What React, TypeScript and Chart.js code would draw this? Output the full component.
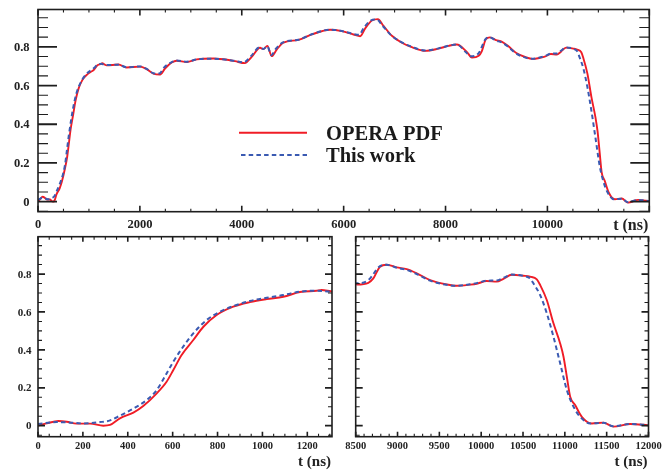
import React, { useEffect, useRef } from "react";
import { Chart, registerables } from "chart.js";

Chart.register(...registerables);

// ---------- data (t in ns, normalised value) ----------
const operaT = [
  0, 39, 91, 128, 172, 232, 291, 321, 365, 425, 469, 529, 573, 603, 640, 692, 737, 796, 870, 944,
  1019, 1093, 1167, 1241, 1264, 1305, 1348, 1577, 1741, 2003, 2133, 2265, 2396, 2493, 2625, 2723,
  2920, 3116, 3443, 3770, 3868, 4060, 4195, 4359, 4424, 4503, 4588, 4686, 4818, 5113, 5375, 5735,
  5964, 6193, 6324, 6422, 6554, 6672, 6783, 6947, 7143, 7339, 7601, 7863, 8060, 8221, 8417, 8519,
  8651, 8711, 8791, 8871, 8990, 9110, 9230, 9389, 9588, 9708, 9867, 9947, 10067, 10186, 10266,
  10366, 10505, 10585, 10665, 10705, 10784, 10864, 10944, 10984, 11024, 11064, 11123, 11203, 11323,
  11461, 11581, 11781, 12000,
];
const operaV = [
  0, 0.012, 0.025, 0.021, 0.011, 0.011, 0.0, 0.004, 0.039, 0.069, 0.104, 0.171, 0.232, 0.294, 0.373,
  0.452, 0.522, 0.584, 0.628, 0.652, 0.668, 0.68, 0.705, 0.712, 0.716, 0.709, 0.704, 0.709, 0.693,
  0.698, 0.685, 0.662, 0.657, 0.688, 0.719, 0.728, 0.722, 0.735, 0.74, 0.731, 0.726, 0.716, 0.748,
  0.795, 0.788, 0.805, 0.752, 0.786, 0.822, 0.836, 0.864, 0.888, 0.881, 0.864, 0.855, 0.895, 0.936,
  0.943, 0.908, 0.857, 0.821, 0.798, 0.779, 0.791, 0.805, 0.812, 0.774, 0.745, 0.754, 0.777, 0.839,
  0.849, 0.835, 0.826, 0.804, 0.768, 0.745, 0.738, 0.744, 0.749, 0.763, 0.76, 0.775, 0.796, 0.791,
  0.786, 0.772, 0.742, 0.663, 0.54, 0.434, 0.364, 0.258, 0.153, 0.109, 0.047, 0.012, 0.016, -0.005,
  0.009, 0.002,
];
const workT = [
  0, 83, 128, 202, 276, 321, 365, 425, 484, 529, 573, 603, 647, 692, 751, 811, 870, 944, 1019, 1093,
  1167, 1241, 1305, 1348, 1577, 1741, 2003, 2133, 2265, 2380, 2480, 2625, 2723, 2920, 3116, 3443,
  3770, 3868, 4040, 4180, 4350, 4424, 4500, 4580, 4670, 4818, 5113, 5375, 5735, 5964, 6193, 6300,
  6400, 6530, 6650, 6760, 6930, 7143, 7339, 7601, 7863, 8060, 8221, 8400, 8500, 8651, 8791, 8871,
  8990, 9110, 9230, 9389, 9588, 9708, 9867, 9947, 10067, 10186, 10266, 10366, 10505, 10585, 10624,
  10705, 10784, 10864, 10944, 11024, 11104, 11183, 11303, 11461, 11581, 11781, 12000,
];
const workV = [
  0.009, 0.019, 0.018, 0.012, 0.019, 0.028, 0.053, 0.09, 0.135, 0.188, 0.276, 0.338, 0.417, 0.487,
  0.557, 0.601, 0.631, 0.658, 0.675, 0.689, 0.707, 0.712, 0.707, 0.706, 0.708, 0.694, 0.699, 0.686,
  0.664, 0.662, 0.695, 0.721, 0.729, 0.723, 0.735, 0.739, 0.731, 0.727, 0.72, 0.752, 0.797, 0.789,
  0.803, 0.757, 0.79, 0.824, 0.837, 0.865, 0.889, 0.882, 0.866, 0.862, 0.9, 0.936, 0.941, 0.91, 0.86,
  0.823, 0.8, 0.781, 0.792, 0.806, 0.812, 0.772, 0.751, 0.768, 0.842, 0.849, 0.833, 0.822, 0.8,
  0.765, 0.743, 0.738, 0.746, 0.752, 0.765, 0.766, 0.78, 0.797, 0.79, 0.777, 0.751, 0.689, 0.593,
  0.469, 0.329, 0.188, 0.1, 0.047, 0.012, 0.015, -0.003, 0.009, 0.003,
];

const topXTicks = [0, 2000, 4000, 6000, 8000, 10000];
const leftXTicks = [0, 200, 400, 600, 800, 1000, 1200];
const rightXTicks = [8500, 9000, 9500, 10000, 10500, 11000, 11500, 12000];
const yTicks = [0, 0.2, 0.4, 0.6, 0.8];
const seriesNames = ["OPERA PDF", "This work"];
const axisTitle = "t (ns)";

// ---------- styling / layout ----------
const W = 671;
const H = 470;
const RED = "#f01c26";
const BLUE = "#3a5ab2";
const INK = "#1e1e1e";
const FONT = '"Liberation Serif", "Times New Roman", serif';

type PanelCfg = {
  left: number; top: number; right: number; bottom: number;
  xMin: number; xMax: number; yMin: number; yMax: number;
  xLabels: number[]; xMajorStep: number; xMinorStep: number;
  yMinorStep: number; showYLabels: boolean;
  yMajLen: number; yMinLen: number; xMajLen: number; xMinLen: number;
  xFont: number; yFont: number; yLabelRight: number; xLabelBaseline: number;
  titleFont: number; titleBaseline: number; legend: boolean;
};

const panels: PanelCfg[] = [
  {
    left: 38, top: 9.5, right: 649.3, bottom: 211.7,
    xMin: 0, xMax: 12000, yMin: -0.052, yMax: 0.993,
    xLabels: topXTicks, xMajorStep: 2000, xMinorStep: 500,
    yMinorStep: 0.05, showYLabels: true,
    yMajLen: 19, yMinLen: 10, xMajLen: 6, xMinLen: 3,
    xFont: 12.5, yFont: 12.5, yLabelRight: 29.5, xLabelBaseline: 228,
    titleFont: 16, titleBaseline: 229.5, legend: true,
  },
  {
    left: 38, top: 236.7, right: 332, bottom: 436.7,
    xMin: 0, xMax: 1310, yMin: -0.058, yMax: 0.997,
    xLabels: leftXTicks, xMajorStep: 200, xMinorStep: 50,
    yMinorStep: 0.05, showYLabels: true,
    yMajLen: 7, yMinLen: 4, xMajLen: 5, xMinLen: 3,
    xFont: 10.5, yFont: 11, yLabelRight: 31.5, xLabelBaseline: 448.5,
    titleFont: 15, titleBaseline: 466, legend: false,
  },
  {
    left: 355.7, top: 236.7, right: 648.5, bottom: 436.7,
    xMin: 8500, xMax: 12000, yMin: -0.058, yMax: 0.997,
    xLabels: rightXTicks, xMajorStep: 500, xMinorStep: 100,
    yMinorStep: 0.05, showYLabels: false,
    yMajLen: 7, yMinLen: 4, xMajLen: 5, xMinLen: 3,
    xFont: 10.5, yFont: 11, yLabelRight: 0, xLabelBaseline: 448.5,
    titleFont: 15, titleBaseline: 466, legend: false,
  },
];

function isMultiple(v: number, step: number) {
  const r = Math.abs(v / step - Math.round(v / step));
  return r < 1e-6;
}

function makeFramePlugin(p: PanelCfg) {
  return {
    id: "rootFrame",
    afterDraw(chart: any) {
      const ctx: CanvasRenderingContext2D = chart.ctx;
      const xs = chart.scales.x;
      const ys = chart.scales.y;
      const a = chart.chartArea;
      ctx.save();
      ctx.strokeStyle = INK;
      ctx.lineCap = "butt";

      // x ticks (bottom & top, pointing inward)
      const x0 = Math.ceil(p.xMin / p.xMinorStep) * p.xMinorStep;
      for (let i = 0; ; i++) {
        const v = x0 + i * p.xMinorStep;
        if (v > p.xMax + 1e-9) break;
        const major = isMultiple(v, p.xMajorStep);
        const len = major ? p.xMajLen : p.xMinLen;
        const px = xs.getPixelForValue(v);
        ctx.lineWidth = major ? 1.6 : 1.1;
        ctx.beginPath();
        ctx.moveTo(px, a.bottom);
        ctx.lineTo(px, a.bottom - len);
        ctx.moveTo(px, a.top);
        ctx.lineTo(px, a.top + len);
        ctx.stroke();
      }
      // y ticks (left & right)
      const y0 = Math.ceil(p.yMin / p.yMinorStep) * p.yMinorStep;
      for (let i = 0; ; i++) {
        const v = y0 + i * p.yMinorStep;
        if (v > p.yMax + 1e-9) break;
        const major = isMultiple(v, 0.2);
        const len = major ? p.yMajLen : p.yMinLen;
        const py = ys.getPixelForValue(v);
        ctx.lineWidth = major ? 1.8 : 1.1;
        ctx.beginPath();
        ctx.moveTo(a.left, py);
        ctx.lineTo(a.left + len, py);
        ctx.moveTo(a.right, py);
        ctx.lineTo(a.right - len, py);
        ctx.stroke();
      }
      // frame
      ctx.lineWidth = 1.6;
      ctx.strokeRect(a.left, a.top, a.right - a.left, a.bottom - a.top);

      // tick labels
      ctx.fillStyle = "#222";
      ctx.textBaseline = "alphabetic";
      ctx.font = `bold ${p.xFont}px ${FONT}`;
      ctx.textAlign = "center";
      p.xLabels.forEach((v) => {
        ctx.fillText(String(v), xs.getPixelForValue(v), p.xLabelBaseline);
      });
      if (p.showYLabels) {
        ctx.font = `bold ${p.yFont}px ${FONT}`;
        ctx.textAlign = "right";
        yTicks.forEach((v) => {
          const txt = v === 0 ? "0" : v.toFixed(1);
          ctx.fillText(txt, p.yLabelRight, ys.getPixelForValue(v) + p.yFont * 0.33);
        });
      }
      // axis title
      ctx.font = `bold ${p.titleFont}px ${FONT}`;
      ctx.textAlign = "right";
      ctx.fillText(axisTitle, a.right - 1, p.titleBaseline);

      // legend
      if (p.legend) {
        ctx.lineWidth = 2;
        ctx.strokeStyle = RED;
        ctx.beginPath();
        ctx.moveTo(239, 132.7);
        ctx.lineTo(307, 132.7);
        ctx.stroke();
        ctx.strokeStyle = BLUE;
        ctx.setLineDash([4.5, 3.2]);
        ctx.beginPath();
        ctx.moveTo(241, 155);
        ctx.lineTo(307, 155);
        ctx.stroke();
        ctx.setLineDash([]);
        ctx.fillStyle = "#1a1a1a";
        ctx.font = `bold 20.5px ${FONT}`;
        ctx.textAlign = "left";
        ctx.fillText(seriesNames[0], 326, 139.5);
        ctx.fillText(seriesNames[1], 326, 161.8);
      }
      ctx.restore();
    },
  };
}

function PanelChart({ cfg }: { cfg: PanelCfg }) {
  const ref = useRef<HTMLCanvasElement>(null);
  useEffect(() => {
    if (!ref.current) return;
    const chart = new Chart(ref.current, {
      type: "line",
      data: {
        datasets: [
          {
            label: seriesNames[0],
            data: operaT.map((t, i) => ({ x: t, y: operaV[i] })),
            borderColor: RED,
            borderWidth: 1.9,
            pointRadius: 0,
            fill: false,
            cubicInterpolationMode: "monotone",
            clip: 0,
            order: 1,
          } as any,
          {
            label: seriesNames[1],
            data: workT.map((t, i) => ({ x: t, y: workV[i] })),
            borderColor: BLUE,
            borderWidth: 2,
            borderDash: [4.5, 3.2],
            pointRadius: 0,
            fill: false,
            cubicInterpolationMode: "monotone",
            clip: 0,
            order: 0,
          } as any,
        ],
      },
      options: {
        responsive: false,
        animation: false,
        events: [],
        layout: {
          padding: {
            left: cfg.left,
            top: cfg.top,
            right: W - cfg.right,
            bottom: H - cfg.bottom,
          },
        },
        plugins: {
          legend: { display: false },
          tooltip: { enabled: false },
          title: { display: false },
        },
        scales: {
          x: { type: "linear", display: false, min: cfg.xMin, max: cfg.xMax },
          y: { type: "linear", display: false, min: cfg.yMin, max: cfg.yMax },
        },
      },
      plugins: [makeFramePlugin(cfg)],
    });
    return () => chart.destroy();
  }, [cfg]);
  return (
    <canvas
      ref={ref}
      width={W}
      height={H}
      style={{ position: "absolute", left: 0, top: 0, width: W, height: H }}
    />
  );
}

export default function App() {
  return (
    <div
      style={{
        position: "absolute",
        left: 0,
        top: 0,
        width: W,
        height: H,
        background: "#ffffff",
        overflow: "hidden",
      }}
    >
      {panels.map((p, i) => (
        <PanelChart key={i} cfg={p} />
      ))}
    </div>
  );
}
